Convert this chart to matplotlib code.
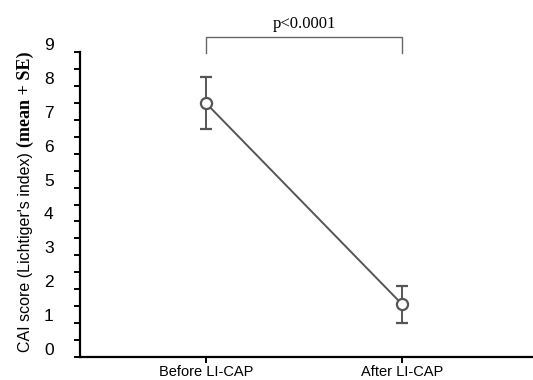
import numpy as np
import matplotlib
matplotlib.use('Agg')
import matplotlib.pyplot as plt
import matplotlib.transforms as mtransforms

# data
groups = ['Before LI-CAP', 'After LI-CAP']
means = [7.5, 1.55]
se = [0.77, 0.55]
p_text = 'p<0.0001'
y_ticks = list(range(0, 10))

fig = plt.figure(figsize=(5.33, 3.8), dpi=100)
ax = fig.add_axes([0.150, 0.0605, 0.85, 0.8025])

x = np.arange(len(groups))
ax.errorbar(x, means, yerr=se, color='#555555', lw=1.4, capsize=4, capthick=1.6,
            marker='o', ms=8, mfc='white', mec='#555555', mew=1.6, zorder=3)

ax.set_xlim(-0.64, 1.665)
ax.set_ylim(0, 9)
ax.spines['top'].set_visible(False)
ax.spines['right'].set_visible(False)
ax.spines['left'].set_linewidth(1.6)
ax.spines['bottom'].set_linewidth(1.6)
ax.spines['bottom'].set_zorder(5)
ax.spines['left'].set_zorder(5)

ax.set_xticks(x)
ax.set_xticklabels(groups, fontsize=10.5, family='Liberation Sans')
ax.set_yticks(y_ticks)
ax.set_yticks(np.arange(0.5, 9, 1.0), minor=True)
ax.set_yticklabels([str(v) for v in y_ticks], fontsize=12.5, family='Liberation Sans')
ax.tick_params(axis='y', which='both', direction='out', length=4, width=1.4, pad=15)
ax.tick_params(axis='x', direction='out', length=4, width=1.4, pad=2)

# labels sit a little above their ticks in the original
offset = mtransforms.ScaledTranslation(0, 0.08, fig.dpi_scale_trans)
for lbl in ax.get_yticklabels():
    lbl.set_transform(lbl.get_transform() + offset)

# significance bracket
br_y, br_low = 9.45, 8.97
ax.plot([0, 0, 1, 1], [br_low, br_y, br_y, br_low], color='#666666', lw=1.0,
        clip_on=False)
ax.text(0.5, br_y + 0.15, p_text, ha='center', va='bottom', fontsize=12,
        family='Liberation Serif', clip_on=False)

# y label: sans part + bold serif part
t1 = fig.text(0.047, 0.075, "CAI score (Lichtiger's index) ", rotation=90, ha='center',
              va='bottom', fontsize=11.5, family='Liberation Sans')
ax.annotate('(mean + SE)', xy=(0.5, 1.0), xycoords=t1, rotation=90, ha='center',
            va='bottom', fontsize=13, family='Liberation Serif', weight='bold',
            annotation_clip=False)

fig.savefig('out.png', dpi=100)
